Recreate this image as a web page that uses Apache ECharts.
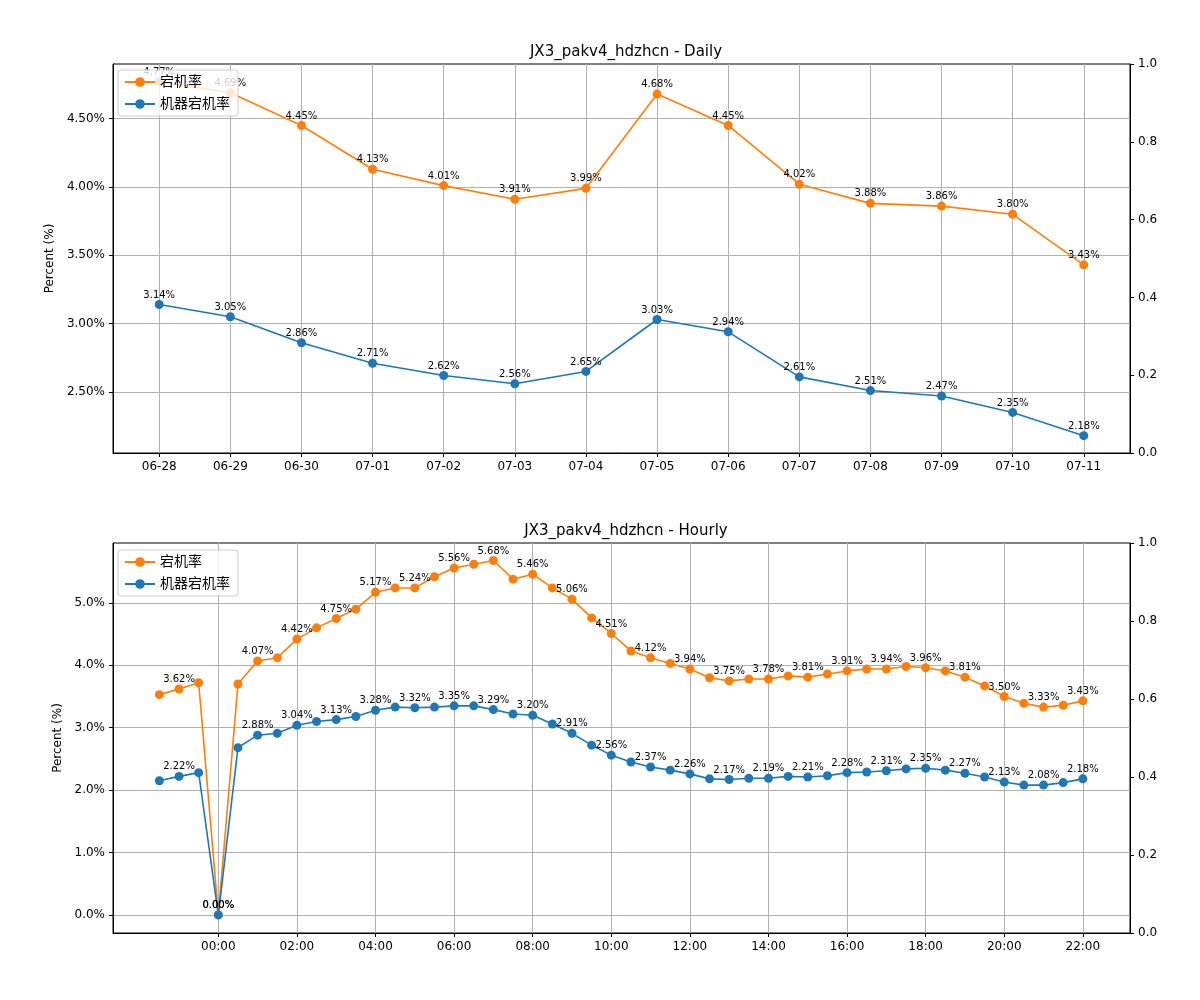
<!DOCTYPE html>
<html>
<head>
<meta charset="utf-8">
<script src="https://cdn.jsdelivr.net/npm/echarts@6/dist/echarts.min.js"></script>
<style>html,body{margin:0;padding:0;background:#fff}#main{width:1200px;height:1000px}</style>
</head>
<body>
<div id="main"></div>
<script>
var dailyDates = ['06-28','06-29','06-30','07-01','07-02','07-03','07-04','07-05','07-06','07-07','07-08','07-09','07-10','07-11'];
var dailyRate = [4.77,4.69,4.45,4.13,4.01,3.91,3.99,4.68,4.45,4.02,3.88,3.86,3.80,3.43];
var dailyMachine = [3.14,3.05,2.86,2.71,2.62,2.56,2.65,3.03,2.94,2.61,2.51,2.47,2.35,2.18];

// hours relative to 00:00 of the day
var hourlyX = [-1.5,-1,-0.5,0,0.5,1,1.5,2,2.5,3,3.5,4,4.5,5,5.5,6,6.5,7,7.5,8,8.5,9,9.5,10,10.5,11,11.5,12,12.5,13,13.5,14,14.5,15,15.5,16,16.5,17,17.5,18,18.5,19,19.5,20,20.5,21,21.5,22];
var hourlyRate = [3.53,3.62,3.72,0.00,3.70,4.07,4.12,4.42,4.60,4.75,4.90,5.17,5.24,5.24,5.42,5.56,5.62,5.68,5.38,5.46,5.24,5.06,4.76,4.51,4.23,4.12,4.03,3.94,3.80,3.75,3.78,3.78,3.83,3.81,3.86,3.91,3.94,3.94,3.98,3.96,3.91,3.81,3.67,3.50,3.39,3.33,3.36,3.43];
var hourlyMachine = [2.15,2.22,2.28,0.00,2.68,2.88,2.91,3.04,3.10,3.13,3.18,3.28,3.33,3.32,3.33,3.35,3.35,3.29,3.22,3.20,3.06,2.91,2.72,2.56,2.45,2.37,2.32,2.26,2.18,2.17,2.19,2.19,2.22,2.21,2.23,2.28,2.29,2.31,2.34,2.35,2.32,2.27,2.21,2.13,2.08,2.08,2.12,2.18];

var dailyTicks = [2.5,3.0,3.5,4.0,4.5];
var hourlyTicks = [0,1,2,3,4,5];
var hourTicks = [0,2,4,6,8,10,12,14,16,18,20,22];
var rightTicks = [0,0.2,0.4,0.6,0.8,1.0];

var ORANGE = '#ff7f0e', BLUE = '#1f77b4';
var font = 'DejaVu Sans, "Noto Sans CJK SC", sans-serif';

function pad(n) { return (n < 10 ? '0' : '') + n; }

function xyPairs(xs, ys) {
    return ys.map(function (v, i) { return [xs[i], v]; });
}

function lineSeries(name, color, data, xi, yi, everyOther) {
    return {
        name: name, type: 'line', xAxisIndex: xi, yAxisIndex: yi,
        data: data, symbol: 'circle', symbolSize: 9,
        lineStyle: { color: color, width: 1.6 }, itemStyle: { color: color },
        label: {
            show: true, position: 'top', distance: 0, color: '#000', fontSize: 10, fontFamily: font,
            formatter: function (p) {
                if (everyOther && p.dataIndex % 2 === 0) return '';
                return p.value[1].toFixed(2) + '%';
            }
        },
        animation: false
    };
}

function leftAxis(gi, min, max, ticks, digits) {
    return {
        type: 'value', gridIndex: gi, min: min, max: max, position: 'left',
        name: 'Percent (%)', nameLocation: 'middle', nameGap: digits === 2 ? 52 : 44,
        nameTextStyle: { color: '#000', fontSize: 12, fontFamily: font },
        axisLine: { show: true, onZero: false, lineStyle: { color: '#000' } },
        axisTick: { show: true, customValues: ticks, length: 4, lineStyle: { color: '#000' } },
        axisLabel: { customValues: ticks, color: '#000', fontSize: 12, fontFamily: font,
            formatter: function (v) { return v.toFixed(digits) + '%'; } },
        splitLine: { show: true, lineStyle: { color: '#b0b0b0', width: 1 } }
    };
}

function rightAxis(gi) {
    return {
        type: 'value', gridIndex: gi, min: 0, max: 1, position: 'right',
        axisLine: { show: true, onZero: false, lineStyle: { color: '#000' } },
        axisTick: { show: true, customValues: rightTicks, length: 4, lineStyle: { color: '#000' } },
        axisLabel: { customValues: rightTicks, color: '#000', fontSize: 12, fontFamily: font,
            formatter: function (v) { return v.toFixed(1); } },
        splitLine: { show: false }
    };
}

function xAxis(gi, min, max, ticks, fmt) {
    return {
        type: 'value', gridIndex: gi, min: min, max: max,
        axisLine: { show: true, onZero: false, lineStyle: { color: '#000' } },
        axisTick: { show: true, customValues: ticks, length: 4, lineStyle: { color: '#000' } },
        axisLabel: { customValues: ticks, color: '#000', fontSize: 12, fontFamily: font, formatter: fmt },
        splitLine: { show: true, lineStyle: { color: '#b0b0b0', width: 1 } }
    };
}

function legend(top) {
    return {
        data: [{ name: '宕机率' }, { name: '机器宕机率' }],
        left: 118, top: top, orient: 'vertical', itemGap: 8, itemWidth: 30, itemHeight: 12,
        backgroundColor: 'rgba(255,255,255,0.8)', borderColor: '#ccc', borderWidth: 1, borderRadius: 3,
        padding: [5, 8, 5, 6], z: 10,
        textStyle: { color: '#000', fontSize: 14, fontFamily: font }
    };
}

var chart = echarts.init(document.getElementById('main'), null, { renderer: 'canvas' });
var dayIdx = dailyDates.map(function (d, i) { return i; });

chart.setOption({
    backgroundColor: '#fff',
    animation: false,
    title: [
        { text: 'JX3_pakv4_hdzhcn - Daily', left: 621, top: 40, textAlign: 'center',
          textStyle: { fontSize: 15, fontWeight: 'normal', color: '#000', fontFamily: font } },
        { text: 'JX3_pakv4_hdzhcn - Hourly', left: 621, top: 519, textAlign: 'center',
          textStyle: { fontSize: 15, fontWeight: 'normal', color: '#000', fontFamily: font } }
    ],
    legend: [legend(70), legend(550)],
    grid: [
        { left: 113, right: 70, top: 64, height: 389, show: true, borderColor: '#000', borderWidth: 1, backgroundColor: 'transparent' },
        { left: 113, right: 70, top: 543, height: 390, show: true, borderColor: '#000', borderWidth: 1, backgroundColor: 'transparent' }
    ],
    xAxis: [
        xAxis(0, -0.65, 13.65, dayIdx, function (v) { return dailyDates[Math.round(v)] || ''; }),
        xAxis(1, -2.68, 23.2, hourTicks, function (v) { return pad(v) + ':00'; })
    ],
    yAxis: [
        leftAxis(0, 2.053, 4.90, dailyTicks, 2),
        rightAxis(0),
        leftAxis(1, -0.29, 5.96, hourlyTicks, 1),
        rightAxis(1)
    ],
    series: [
        lineSeries('宕机率', ORANGE, xyPairs(dayIdx, dailyRate), 0, 0, false),
        lineSeries('机器宕机率', BLUE, xyPairs(dayIdx, dailyMachine), 0, 0, false),
        lineSeries('宕机率', ORANGE, xyPairs(hourlyX, hourlyRate), 1, 2, true),
        lineSeries('机器宕机率', BLUE, xyPairs(hourlyX, hourlyMachine), 1, 2, true),
        { type: 'line', xAxisIndex: 0, yAxisIndex: 1, data: [] },
        { type: 'line', xAxisIndex: 1, yAxisIndex: 3, data: [] }
    ]
});
</script>
</body>
</html>
